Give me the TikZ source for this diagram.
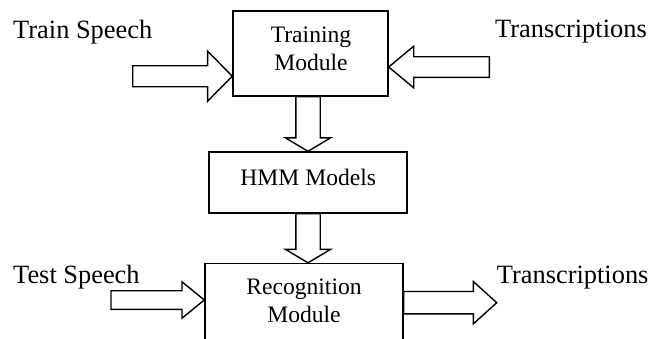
\documentclass[tikz,border=0pt]{standalone}
\usepackage{fontspec}
\setmainfont{Liberation Serif}
\usetikzlibrary{calc}

\tikzset{
  box/.style={draw, line width=1.4pt, inner sep=0pt},
  boxtext/.style={inner sep=0pt, align=center, font=\fontsize{23.6}{28}\selectfont},
  lbl/.style={inner sep=0pt, anchor=base west, font=\fontsize{26.4}{30}\selectfont},
  fat/.style n args={3}{draw, line width=1.4pt, line join=miter, to path={
    let \p1=(\tikztostart), \p2=(\tikztotarget),
        \n1={atan2(\y2-\y1,\x2-\x1)},
        \p3=($(\p2)+({\n1+180}:#3)$)
    in ($(\p1)+({\n1+90}:#1)$) -- ($(\p3)+({\n1+90}:#1)$) -- ($(\p3)+({\n1+90}:#2)$) -- (\p2)
       -- ($(\p3)+({\n1-90}:#2)$) -- ($(\p3)+({\n1-90}:#1)$) -- ($(\p1)+({\n1-90}:#1)$) -- cycle}},
}

\begin{document}
\begin{tikzpicture}[x=1pt, y=-1pt]
        \useasboundingbox (0,0) rectangle (649,338);
        \clip (0,0) rectangle (649,338);
        \node[box, minimum width=155pt, minimum height=85pt] (train) at (310.5,53.5) {};
        \node[box, minimum width=198pt, minimum height=61pt] (hmm) at (308,182.5) {};
        \node[box, minimum width=198pt, minimum height=84.5pt] (recog) at (304,305.75) {};
        \node[boxtext, anchor=base] (trainTxt) at (311,70.5) {Training\\Module};
        \node[boxtext, anchor=base] (hmmTxt) at (308.3,185.7) {HMM Models};
        \node[boxtext, anchor=base] (recogTxt) at (304,322.7) {Recognition\\Module};
        \node[lbl] (trainLbl) at (13,38.5) {Train Speech};
        \node[lbl] (transInLbl) at (495,37) {Transcriptions};
        \node[lbl] (testLbl) at (13,283.5) {Test Speech};
        \node[lbl] (transOutLbl) at (496.7,283) {Transcriptions};
        \coordinate (trainIn) at (132.7,76.2);
        \coordinate (transIn) at (489.3,67);
        \coordinate (testIn) at (111,300);
        \coordinate (transOut) at (496.7,302.7);
        \draw[fat={10.5pt}{25pt}{24.7pt}] (trainIn) to (train.west |- trainIn);
        \draw[fat={10.3pt}{20.8pt}{25pt}] (transIn) to (train.east |- transIn);
        \draw[fat={12.2pt}{22.5pt}{13.4pt}] (train.south -| hmm.north) to (hmm.north);
        \draw[fat={12.2pt}{22.5pt}{13.4pt}] (hmm.south) to (hmm.south |- recog.north);
        \draw[fat={9.3pt}{18.2pt}{22.3pt}] (testIn) to (recog.west |- testIn);
        \draw[fat={11.2pt}{21.2pt}{23.4pt}] (recog.east |- transOut) to (transOut);
    \end{tikzpicture}
\end{document}
